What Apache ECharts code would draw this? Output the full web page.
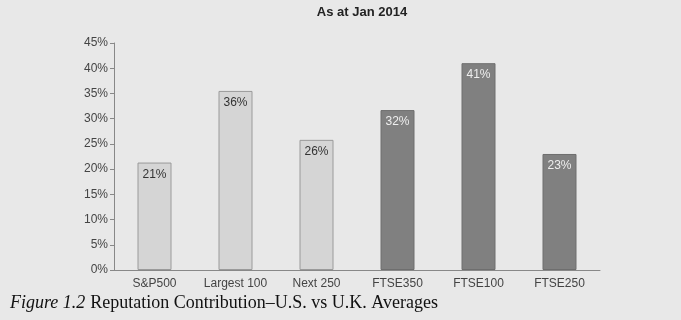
<!DOCTYPE html>
<html>
<head>
<meta charset="utf-8">
<script src="https://cdn.jsdelivr.net/npm/echarts@6/dist/echarts.min.js"></script>
<style>
  html, body { margin: 0; padding: 0; background: #e8e8e8; }
  #chart { width: 681px; height: 320px; }
</style>
</head>
<body>
<div id="chart"></div>
<script>
// values
var categories = ['S&P500', 'Largest 100', 'Next 250', 'FTSE350', 'FTSE100', 'FTSE250'];
var values = [21.3, 35.5, 25.8, 31.7, 41.0, 23.0];
var labels = ['21%', '36%', '26%', '32%', '41%', '23%'];
var isUK = [false, false, false, true, true, true];
var yTicks = [0, 5, 10, 15, 20, 25, 30, 35, 40, 45];

var chart = echarts.init(document.getElementById('chart'));

var barData = values.map(function (v, i) {
  return {
    value: v,
    itemStyle: isUK[i]
      ? { color: '#808080', borderColor: '#6e6e6e', borderWidth: 1 }
      : { color: '#d5d5d5', borderColor: '#9a9a9a', borderWidth: 1 },
    label: { color: isUK[i] ? '#eeeeee' : '#333333' }
  };
});

chart.setOption({
  backgroundColor: '#e8e8e8',
  animation: false,
  title: [
    {
      text: 'As at Jan 2014',
      left: 357,
      top: 1,
      textAlign: 'center',
      textStyle: { fontFamily: 'Liberation Sans', fontSize: 13, fontWeight: 'bold', color: '#222' }
    },
    {
      text: '{i|Figure 1.2} {n|Reputation Contribution\u2013U.S. vs U.K. Averages}',
      left: 5,
      top: 289,
      textStyle: {
        fontWeight: 'normal',
        rich: {
          i: { fontFamily: 'Liberation Serif', fontStyle: 'italic', fontWeight: 'normal', fontSize: 18, color: '#111' },
          n: { fontFamily: 'Liberation Serif', fontWeight: 'normal', fontSize: 18, color: '#111' }
        }
      }
    }
  ],
  grid: { left: 114, right: 81, top: 43, bottom: 50 },
  xAxis: {
    type: 'category',
    data: categories,
    axisLine: { lineStyle: { color: '#888' } },
    axisTick: { show: false },
    axisLabel: { interval: 0, fontFamily: 'Liberation Sans', fontSize: 12, color: '#444', margin: 8 }
  },
  yAxis: {
    type: 'value',
    min: yTicks[0],
    max: yTicks[yTicks.length - 1],
    interval: 5,
    splitLine: { show: false },
    axisLine: { show: true, lineStyle: { color: '#888' } },
    axisTick: { show: true, length: 4, lineStyle: { color: '#888' } },
    axisLabel: { fontFamily: 'Liberation Sans', fontSize: 12, color: '#444', formatter: '{value}%', margin: 6 }
  },
  series: [{
    type: 'bar',
    data: barData,
    barWidth: 34,
    label: {
      show: true,
      position: 'insideTop',
      distance: 6,
      fontFamily: 'Liberation Sans',
      fontSize: 12,
      formatter: function (p) { return labels[p.dataIndex]; }
    }
  }]
});
</script>
</body>
</html>
